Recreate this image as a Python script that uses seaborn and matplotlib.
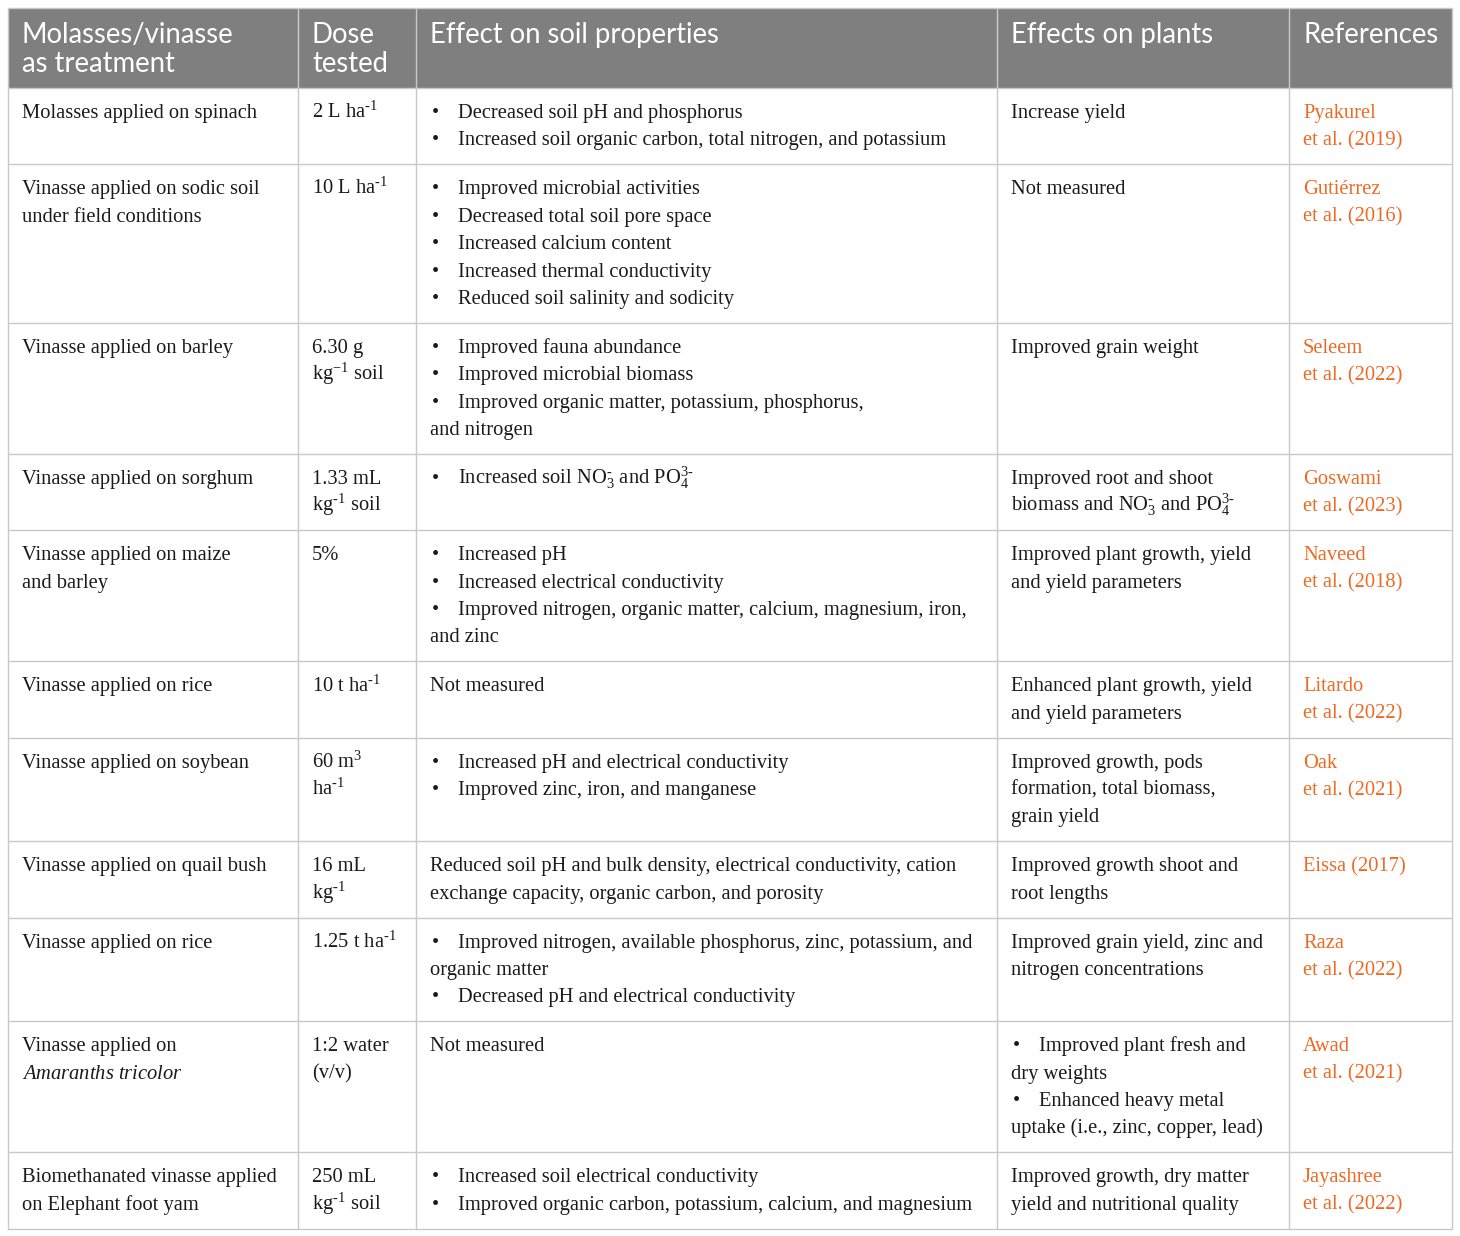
import matplotlib
matplotlib.use("Agg")
import matplotlib.pyplot as plt
import seaborn as sns

sns.set_theme(style="white")
plt.rcParams["font.family"] = ["Liberation Serif", "DejaVu Serif"]
plt.rcParams["mathtext.fontset"] = "custom"
plt.rcParams["mathtext.rm"] = "Liberation Serif"
plt.rcParams["mathtext.it"] = "Liberation Serif:italic"

# table content (each cell is a list of lines, "•" marks a bullet line)
headers = [["Molasses/vinasse", "as treatment"], ["Dose", "tested"],
           ["Effect on soil properties"], ["Effects on plants"], ["References"]]

treatment = [
    ["Molasses applied on spinach"],
    ["Vinasse applied on sodic soil", "under field conditions"],
    ["Vinasse applied on barley"],
    ["Vinasse applied on sorghum"],
    ["Vinasse applied on maize", "and barley"],
    ["Vinasse applied on rice"],
    ["Vinasse applied on soybean"],
    ["Vinasse applied on quail bush"],
    ["Vinasse applied on rice"],
    ["Vinasse applied on", r"$\mathit{Amaranths\ tricolor}$"],
    ["Biomethanated vinasse applied", "on Elephant foot yam"],
]

dose = [
    [r"2 L ha$^{\mathregular{‐1}}$"],
    [r"10 L ha$^{\mathregular{‐1}}$"],
    ["6.30 g", r"kg$^{\mathregular{−1}}$ soil"],
    ["1.33 mL", r"kg$^{\mathregular{‐1}}$ soil"],
    ["5%"],
    [r"10 t ha$^{\mathregular{‐1}}$"],
    [r"60 m$^{\mathregular{3}}$", r"ha$^{\mathregular{‐1}}$"],
    ["16 mL", r"kg$^{\mathregular{‐1}}$"],
    [r"1.25 t ha$^{\mathregular{‐1}}$"],
    ["1:2 water", "(v/v)"],
    ["250 mL", r"kg$^{\mathregular{‐1}}$ soil"],
]

soil_effect = [
    ["•Decreased soil pH and phosphorus",
     "•Increased soil organic carbon, total nitrogen, and potassium"],
    ["•Improved microbial activities", "•Decreased total soil pore space",
     "•Increased calcium content", "•Increased thermal conductivity",
     "•Reduced soil salinity and sodicity"],
    ["•Improved fauna abundance", "•Improved microbial biomass",
     "•Improved organic matter, potassium, phosphorus,", "and nitrogen"],
    [r"•Increased soil NO$_{\mathregular{3}}^{\mathregular{‐}}$ and PO$_{\mathregular{4}}^{\mathregular{3‐}}$"],
    ["•Increased pH", "•Increased electrical conductivity",
     "•Improved nitrogen, organic matter, calcium, magnesium, iron,", "and zinc"],
    ["Not measured"],
    ["•Increased pH and electrical conductivity", "•Improved zinc, iron, and manganese"],
    ["Reduced soil pH and bulk density, electrical conductivity, cation",
     "exchange capacity, organic carbon, and porosity"],
    ["•Improved nitrogen, available phosphorus, zinc, potassium, and",
     "organic matter", "•Decreased pH and electrical conductivity"],
    ["Not measured"],
    ["•Increased soil electrical conductivity",
     "•Improved organic carbon, potassium, calcium, and magnesium"],
]

plant_effect = [
    ["Increase yield"],
    ["Not measured"],
    ["Improved grain weight"],
    ["Improved root and shoot",
     r"biomass and NO$_{\mathregular{3}}^{\mathregular{‐}}$ and PO$_{\mathregular{4}}^{\mathregular{3‐}}$"],
    ["Improved plant growth, yield", "and yield parameters"],
    ["Enhanced plant growth, yield", "and yield parameters"],
    ["Improved growth, pods", "formation, total biomass,", "grain yield"],
    ["Improved growth shoot and", "root lengths"],
    ["Improved grain yield, zinc and", "nitrogen concentrations"],
    ["•Improved plant fresh and", "dry weights", "•Enhanced heavy metal",
     "uptake (i.e., zinc, copper, lead)"],
    ["Improved growth, dry matter", "yield and nutritional quality"],
]

references = [
    ["Pyakurel", "et al. (2019)"],
    ["Gutiérrez", "et al. (2016)"],
    ["Seleem", "et al. (2022)"],
    ["Goswami", "et al. (2023)"],
    ["Naveed", "et al. (2018)"],
    ["Litardo", "et al. (2022)"],
    ["Oak", "et al. (2021)"],
    ["Eissa (2017)"],
    ["Raza", "et al. (2022)"],
    ["Awad", "et al. (2021)"],
    ["Jayashree", "et al. (2022)"],
]

columns = [treatment, dose, soil_effect, plant_effect, references]

# layout (pixels)
col_edges = [8, 298, 416, 997, 1289, 1452]
top, header_h = 8, 80
line_h, row_pad = 27.4, 21.5
pad_x = 14
header_bg = "#7f7f7f"
grid_c = "#c9c9c9"
ref_c = "#ee6a24"
body_fs = 14.8
head_fs = 19.8

fig = plt.figure(figsize=(14.6, 12.36), dpi=100)
ax = fig.add_axes([0, 0, 1, 1])
ax.set_xlim(0, 1460)
ax.set_ylim(1236, 0)
ax.axis("off")

# header
ax.add_patch(plt.Rectangle((col_edges[0], top), col_edges[-1] - col_edges[0], header_h,
                           color=header_bg, lw=0))
for j, lines in enumerate(headers):
    for k, t in enumerate(lines):
        ax.text(col_edges[j] + pad_x, top + 35 + k * 28.5, t, color="white",
                fontsize=head_fs, family=["Lato", "DejaVu Sans"], va="baseline")

# body rows
y = top + header_h
row_edges = [top, y]
n_rows = len(treatment)
for i in range(n_rows):
    n_lines = max(len(col[i]) for col in columns)
    for j, col in enumerate(columns):
        x0 = col_edges[j] + pad_x
        color = ref_c if j == 4 else "#1a1a1a"
        for k, t in enumerate(col[i]):
            yb = y + 30 + k * line_h
            if t.startswith("•"):
                ax.text(x0 + 2, yb, "•", fontsize=body_fs, color=color, va="baseline")
                ax.text(x0 + 28, yb, t[1:], fontsize=body_fs, color=color, va="baseline")
            else:
                ax.text(x0, yb, t, fontsize=body_fs, color=color, va="baseline")
    y += n_lines * line_h + row_pad
    row_edges.append(y)

# grid lines
for ye in row_edges[1:]:
    ax.plot([col_edges[0], col_edges[-1]], [ye, ye], color=grid_c, lw=1.0)
ax.plot([col_edges[0], col_edges[-1]], [top, top], color=grid_c, lw=1.0)
for xe in col_edges:
    ax.plot([xe, xe], [top, row_edges[-1]], color=grid_c, lw=1.0)

fig.savefig("out.png", dpi=100, facecolor="white")
